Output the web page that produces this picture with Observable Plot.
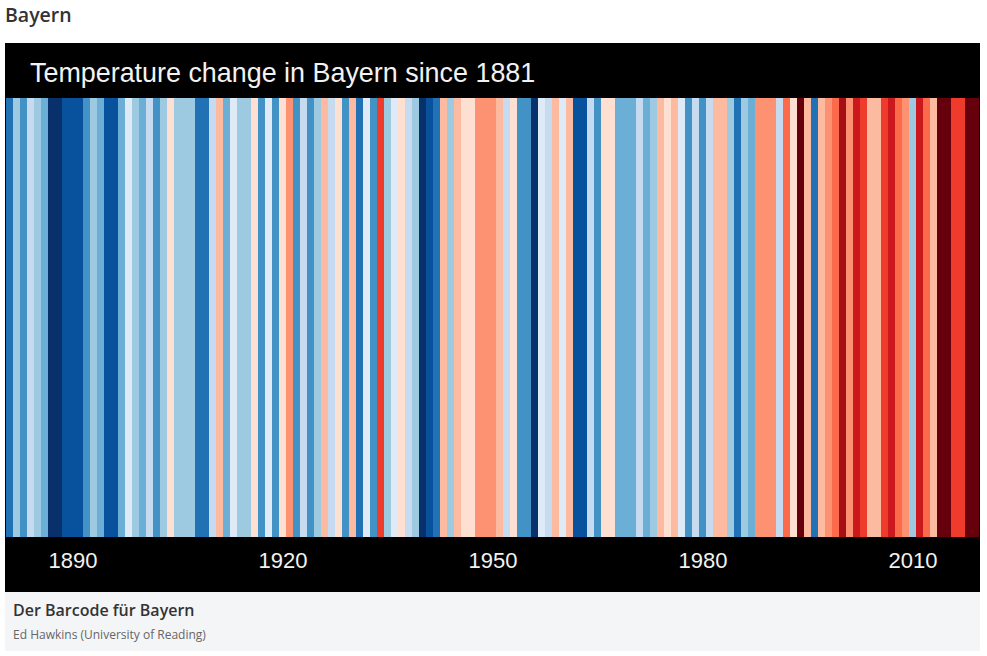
<!DOCTYPE html>
<html>
<head>
<meta charset="utf-8">
<script src="https://cdn.jsdelivr.net/npm/d3@7"></script>
<script src="https://cdn.jsdelivr.net/npm/@observablehq/plot@0.6"></script>
<style>
  html, body { margin: 0; padding: 0; background: #fff; }
  body { width: 987px; height: 656px; position: relative; overflow: hidden; font-family: "Open Sans", sans-serif; }
  #heading { position: absolute; left: 5px; top: 1px; font-size: 19.5px; font-weight: 600; color: #333; }
  #figure { position: absolute; left: 5px; top: 43px; width: 975px; background: #000; }
  #title { height: 55px; box-sizing: border-box; padding-left: 25px; padding-top: 15px; color: #f2f2f2; font-family: "Liberation Sans", Arial, sans-serif; font-size: 26.9px; line-height: 30px; white-space: nowrap; }
  #chart svg { display: block; }
  #caption { position: absolute; left: 5px; top: 592px; width: 975px; height: 59px; background: #f4f5f6; }
  #cap1 { position: absolute; left: 8px; top: 7px; font-size: 16px; font-weight: 600; color: #333; }
  #cap2 { position: absolute; left: 8px; top: 34px; font-size: 12px; color: #666; }
</style>
</head>
<body>
<div id="heading">Bayern</div>
<div id="figure">
  <div id="title">Temperature change in Bayern since 1881</div>
  <div id="chart"></div>
</div>
<div id="caption">
  <div id="cap1">Der Barcode für Bayern</div>
  <div id="cap2">Ed Hawkins (University of Reading)</div>
</div>
<script>
const firstYear = 1881;
// Annual temperature anomaly (°C), read from the stripes, 1881–2019
const anomalies = [
  -1.08, -0.51, -0.87, -0.33, -0.46, -0.72, -1.55, -1.47, -1.31, -1.26,  // 1881-1890
  -1.34, -0.93, -0.52, -0.68, -1.29, -1.36, -0.74, -0.12, -0.48, -0.66,  // 1891-1900
  -0.27, -0.91, -0.55,  0.08, -0.49, -0.44, -0.53, -1.12, -1.05, -0.31,  // 1901-1910
   0.27, -0.71, -0.15, -0.47, -0.56,  0.11, -0.88, -0.09, -0.94,  0.13,  // 1911-1920
   0.52, -0.86, -0.29, -0.97, -0.45,  0.31, -0.34,  0.06, -0.92,  0.33,  // 1921-1930
  -1.07, -0.11, -0.89,  0.93, -0.42, -0.14,  0.09, -0.26, -0.51, -1.58,  // 1931-1940
  -1.33, -1.14,  0.29, -0.43,  0.34,  0.12,  0.17,  0.48,  0.55,  0.46,  // 1941-1950
   0.32, -0.28,  0.07, -0.85, -0.95, -1.49, -0.08, -0.32,  0.36, -0.13,  // 1951-1960
   0.28, -1.27, -1.38, -0.35, -0.96,  0.14,  0.10, -0.69, -0.75, -0.63,  // 1961-1970
  -0.24, -0.73, -0.50,  0.26,  0.15,  0.24, -0.06, -0.84, -0.36, -0.98,  // 1971-1980
  -0.22,  0.35,  0.38, -0.57, -1.09, -0.41, -0.77,  0.49,  0.57,  0.53,  // 1981-1990
  -0.25,  0.68,  0.16,  1.52,  0.37, -1.03,  0.25,  0.51,  0.72,  1.31,  // 1991-2000
   0.47,  1.08,  0.94,  0.33,  0.30,  0.87,  1.13,  0.66,  0.54, -0.46,  // 2001-2010
   1.12,  0.74,  0.36,  1.58,  1.49,  0.91,  0.86,  1.71,  1.55           // 2011-2019
];
const stripeColors = [
  "#08306b", "#08519c", "#2171b5", "#4292c6", "#6baed6", "#9ecae1", "#c6dbef", "#deebf7",
  "#fee0d2", "#fcbba1", "#fc9272", "#fb6a4a", "#ef3b2c", "#cb181d", "#a50f15", "#67000d"
];
const thresholds = [-1.4, -1.2, -1.0, -0.8, -0.6, -0.4, -0.2, 0, 0.2, 0.4, 0.6, 0.8, 1.0, 1.2, 1.4];
const tickYears = [1890, 1920, 1950, 1980, 2010];

const data = anomalies.map((a, i) => ({year: firstYear + i, anomaly: a}));

const plot = Plot.plot({
  width: 975,
  height: 494,
  marginTop: 0,
  marginBottom: 55,
  marginLeft: 0,
  marginRight: 0,
  style: {background: "#000", overflow: "visible"},
  x: {type: "band", domain: data.map(d => d.year), padding: 0, axis: null},
  color: {type: "threshold", domain: thresholds, range: stripeColors},
  marks: [
    Plot.cell(data, {x: "year", fill: "anomaly", shapeRendering: "crispEdges"}),
    Plot.axisX(tickYears, {
      tickSize: 0,
      tickPadding: 15,
      fontSize: 22,
      fill: "#f2f2f2",
      fontFamily: "Liberation Sans, Arial, sans-serif",
      tickFormat: d => String(d),
      label: null
    })
  ]
});
document.getElementById("chart").appendChild(plot);
</script>
</body>
</html>
